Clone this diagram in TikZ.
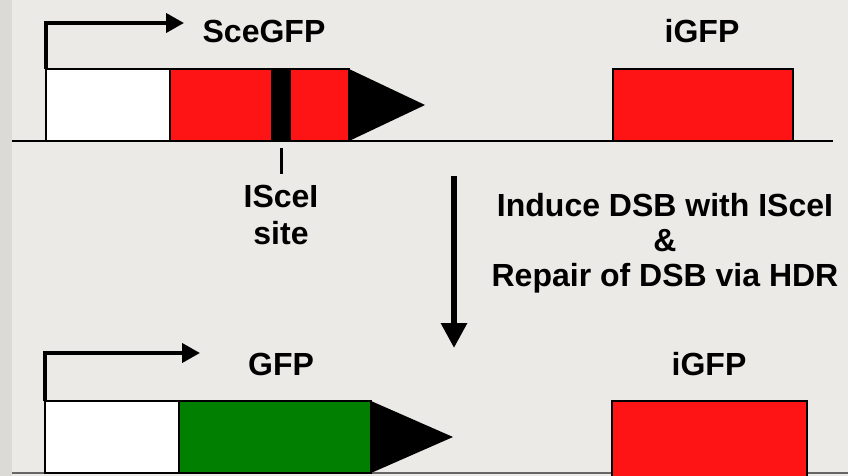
\documentclass[tikz,border=0pt]{standalone}
\usepackage{fontspec}
\setmainfont{Liberation Sans}
\usetikzlibrary{positioning,arrows.meta}
\definecolor{slide}{HTML}{ECEAE7}
\definecolor{slideedge}{HTML}{DCDAD7}
\definecolor{geneRed}{HTML}{FE1414}
\definecolor{geneGreen}{HTML}{007F00}

\begin{document}
\begin{tikzpicture}[x=1pt, y=-1pt,
  seg/.style={draw=black, line width=1.6pt, inner sep=0pt, outer sep=0pt, minimum height=72pt, anchor=north west},
  genelbl/.style={font=\bfseries\fontsize{32}{35}\selectfont, inner sep=0pt, align=center},
  promoter/.style={line width=4pt, -{Triangle[length=18pt, width=19pt]}},
  dna/.style={line width=1.5pt}]

\fill[slide] (0,0) rectangle (848,476);
\fill[slideedge] (0,0) rectangle (12,476);
\useasboundingbox (0,0) rectangle (848,476);

% before repair
\coordinate (topL) at (12,141);
\coordinate (topR) at (833,141);
\draw[dna] (topL) -- (topR);
\node[seg, fill=white, minimum width=124pt] (prom1) at (46,69) {};
\node[seg, fill=geneRed, minimum width=102pt, right=0pt of prom1] (sce1) {};
\node[seg, fill=black, minimum width=18pt, right=0pt of sce1] (band) {};
\node[seg, fill=geneRed, minimum width=59pt, right=0pt of band] (sce2) {};
\coordinate (tip1) at (425,105);
\fill (sce2.north east) -- (tip1) -- (sce2.south east) -- cycle;
\coordinate (tss1) at (184,23);
\draw[promoter] (prom1.north west) |- (tss1);
\node[genelbl, anchor=base] (sceLbl) at (264,43) {SceGFP};
\node[seg, fill=geneRed, minimum width=180pt] (igfp1) at (613,69) {};
\node[genelbl, anchor=base] (igfp1Lbl) at (702,43) {iGFP};

\node[genelbl, anchor=base, font=\bfseries\fontsize{32}{37}\selectfont] (siteLbl) at (281,244) {ISceI\\site};
\draw[line width=3pt] ([yshift=-7pt]band.south) -- ([yshift=10pt]siteLbl.north);

% repair step
\coordinate (stepTop) at (454,176);
\coordinate (stepTip) at (454,348);
\draw[line width=6pt, -{Triangle[length=25pt, width=25pt]}] (stepTop) -- (stepTip);
\node[genelbl] (stepLbl) at (665,243) {Induce DSB with ISceI\\\&\\Repair of DSB via HDR};

% after repair
\coordinate (botL) at (12,473);
\coordinate (botR) at (848,473);
\draw[dna, black!60] (botL) -- (botR);
\node[seg, fill=white, minimum width=134pt] (prom2) at (45,401) {};
\node[seg, fill=geneGreen, minimum width=192pt, right=0pt of prom2] (gfp) {};
\coordinate (tip2) at (453,437);
\fill (gfp.north east) -- (tip2) -- (gfp.south east) -- cycle;
\coordinate (tss2) at (200,353);
\draw[promoter] (prom2.north west) |- (tss2);
\node[genelbl, anchor=base] (gfpLbl) at (281,375) {GFP};
\node[seg, fill=geneRed, minimum width=195pt, minimum height=80pt] (igfp2) at (612,401) {};
\node[genelbl, anchor=base] (igfp2Lbl) at (709,375) {iGFP};
\end{tikzpicture}
\end{document}
